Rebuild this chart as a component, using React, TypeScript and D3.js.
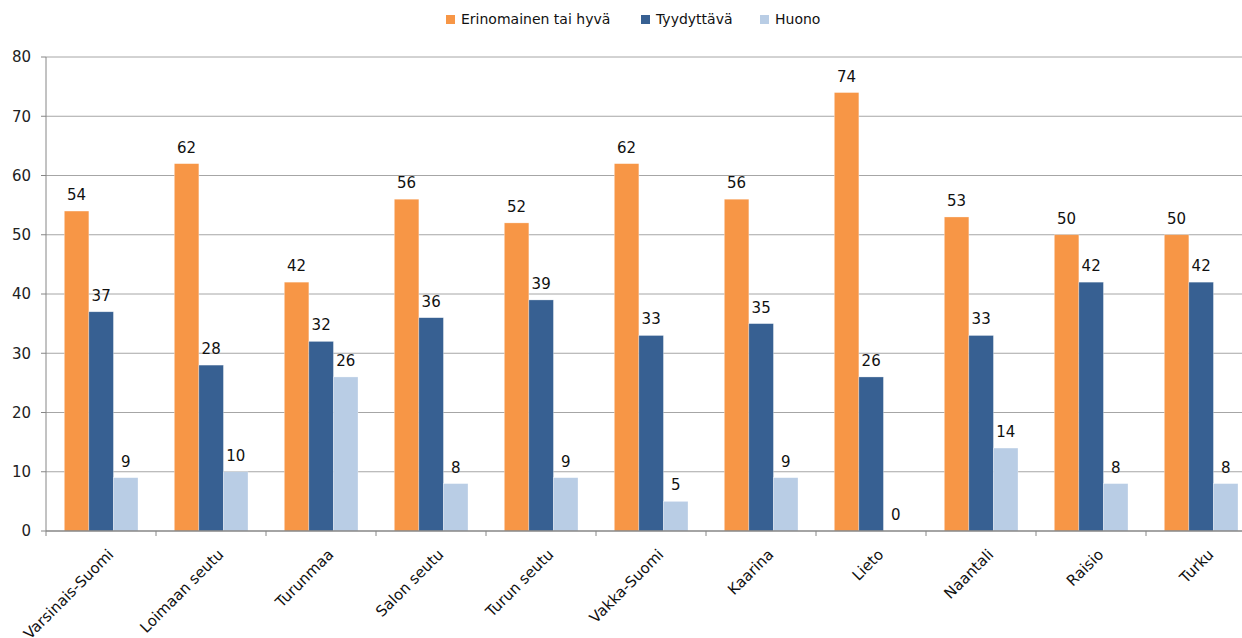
import { useEffect, useRef } from "react"
import * as d3 from "d3"

const categories = [
  "Varsinais-Suomi",
  "Loimaan seutu",
  "Turunmaa",
  "Salon seutu",
  "Turun seutu",
  "Vakka-Suomi",
  "Kaarina",
  "Lieto",
  "Naantali",
  "Raisio",
  "Turku",
]
const seriesNames = ["Erinomainen tai hyvä", "Tyydyttävä", "Huono"]
const erinomainen = [54, 62, 42, 56, 52, 62, 56, 74, 53, 50, 50]
const tyydyttava = [37, 28, 32, 36, 39, 33, 35, 26, 33, 42, 42]
const huono = [9, 10, 26, 8, 9, 5, 9, 0, 14, 8, 8]
const yTicks = [0, 10, 20, 30, 40, 50, 60, 70, 80]
const colors = ["#F79646", "#376092", "#B9CDE5"]

const W = 1242
const H = 638
const FONT = "'DejaVu Sans', 'Liberation Sans', sans-serif"

const App = () => {
  const ref = useRef<SVGSVGElement>(null)

  useEffect(() => {
    const svg = d3.select(ref.current)
    svg.selectAll("*").remove()

    const left = 46
    const bandW = 110
    const x = d3
      .scaleBand()
      .domain(categories)
      .range([left, left + bandW * categories.length])
      .paddingInner(0)
      .paddingOuter(0)
    const x1 = d3
      .scaleBand()
      .domain(seriesNames)
      .range([18.3, bandW - 18])
    const y = d3.scaleLinear().domain([0, 80]).range([531, 57])

    // gridlines
    svg
      .append("g")
      .selectAll("line")
      .data(yTicks.slice(1))
      .enter()
      .append("line")
      .attr("x1", left)
      .attr("x2", W)
      .attr("y1", (d) => y(d))
      .attr("y2", (d) => y(d))
      .attr("stroke", "#a6a6a6")
      .attr("stroke-width", 1)

    // y axis
    svg
      .append("line")
      .attr("x1", left)
      .attr("x2", left)
      .attr("y1", y(80))
      .attr("y2", y(0))
      .attr("stroke", "#868686")
    svg
      .append("g")
      .selectAll("line")
      .data(yTicks)
      .enter()
      .append("line")
      .attr("x1", left - 5)
      .attr("x2", left)
      .attr("y1", (d) => y(d))
      .attr("y2", (d) => y(d))
      .attr("stroke", "#868686")
    svg
      .append("g")
      .selectAll("text")
      .data(yTicks)
      .enter()
      .append("text")
      .text((d) => d)
      .attr("x", 31)
      .attr("y", (d) => y(d))
      .attr("dy", "0.35em")
      .attr("text-anchor", "end")
      .attr("font-family", FONT)
      .attr("font-size", "15px")
      .attr("fill", "#222")

    // bars
    const values = [erinomainen, tyydyttava, huono]
    const data = categories.flatMap((c, i) =>
      seriesNames.map((s, j) => ({ c, s, j, v: values[j][i] }))
    )
    svg
      .append("g")
      .selectAll("rect")
      .data(data)
      .enter()
      .append("rect")
      .attr("x", (d) => (x(d.c) as number) + (x1(d.s) as number))
      .attr("y", (d) => y(d.v))
      .attr("width", x1.bandwidth())
      .attr("height", (d) => y(0) - y(d.v))
      .attr("fill", (d) => colors[d.j])
      .attr("stroke", "#ffffff")
      .attr("stroke-opacity", 0.5)
      .attr("stroke-width", 0.6)

    svg
      .append("g")
      .selectAll("text")
      .data(data)
      .enter()
      .append("text")
      .text((d) => d.v)
      .attr("x", (d) => (x(d.c) as number) + (x1(d.s) as number) + x1.bandwidth() / 2)
      .attr("y", (d) => y(d.v) - 11)
      .attr("text-anchor", "middle")
      .attr("font-family", FONT)
      .attr("font-size", "15px")
      .attr("fill", "#111")

    // x axis
    svg
      .append("line")
      .attr("x1", left)
      .attr("x2", W)
      .attr("y1", y(0))
      .attr("y2", y(0))
      .attr("stroke", "#868686")
      .attr("stroke-width", 1.5)
    svg
      .append("g")
      .selectAll("line")
      .data(categories)
      .enter()
      .append("line")
      .attr("x1", (d) => x(d) as number)
      .attr("x2", (d) => x(d) as number)
      .attr("y1", y(0))
      .attr("y2", y(0) + 5)
      .attr("stroke", "#868686")
    svg
      .append("g")
      .selectAll("text")
      .data(categories)
      .enter()
      .append("text")
      .text((d) => d)
      .attr("transform", (d) => {
        const cx = (x(d) as number) + bandW / 2 + 6
        return "translate(" + cx + ",548)rotate(-45)"
      })
      .attr("dy", "0.7em")
      .attr("text-anchor", "end")
      .attr("font-family", FONT)
      .attr("font-size", "15px")
      .attr("fill", "#111")

    // legend
    const legendX = [446, 641, 760]
    const lg = svg
      .append("g")
      .selectAll("g")
      .data(seriesNames)
      .enter()
      .append("g")
      .attr("transform", (_d, i) => "translate(" + legendX[i] + ",15)")
    lg.append("rect")
      .attr("width", 9)
      .attr("height", 9)
      .attr("fill", (_d, i) => colors[i])
    lg.append("text")
      .text((d) => d)
      .attr("x", 15)
      .attr("y", 4.5)
      .attr("dy", "0.35em")
      .attr("font-family", FONT)
      .attr("font-size", "14px")
      .attr("fill", "#111")
  }, [])

  return (
    <div style={{ position: "absolute", left: 0, top: 0 }}>
      <svg ref={ref} width={W} height={H} style={{ display: "block", background: "#fff" }} />
    </div>
  )
}

export default App
